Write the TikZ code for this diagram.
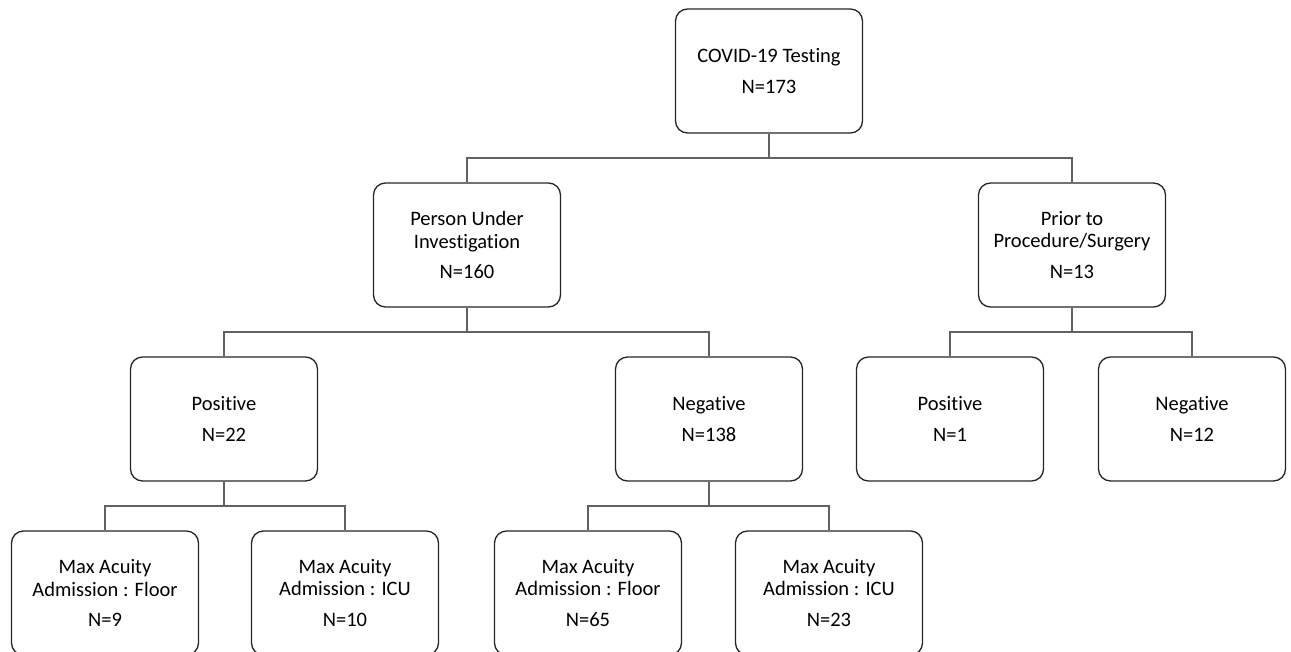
\documentclass[tikz,border=0pt]{standalone}
\usepackage{fontspec}
\setmainfont{Carlito}[Ligatures=NoCommon]
\usepackage{tikz}

\tikzset{
    box/.style={draw=black!85, line width=1.3pt, rounded corners=12pt,
        minimum width=187pt, minimum height=124pt, align=center,
        font=\fontsize{20.5}{22.5}\selectfont, inner sep=0pt},
    link/.style={draw=black!62, line width=1.6pt}
}

\begin{document}
\begin{tikzpicture}[x=1pt,y=-1pt]

    \path[use as bounding box, clip] (0,0) rectangle (1291,651);

    % level 0
    \node[box] (test) at (769,71) {COVID-19 Testing\\[8pt]N=173};

    % level 1
    \node[box] (pui) at (467,245) {Person Under\\Investigation\\[8pt]N=160};
    \node[box] (prior) at (1072,245) {Prior to\\Procedure/Surgery\\[8pt]N=13};

    % level 2
    \node[box] (puipos) at (224,419) {Positive\\[8pt]N=22};
    \node[box] (puineg) at (709,419) {Negative\\[8pt]N=138};
    \node[box] (priorpos) at (950,419) {Positive\\[8pt]N=1};
    \node[box] (priorneg) at (1192,419) {Negative\\[8pt]N=12};

    % level 3
    \node[box] (posfloor) at (105,593) {Max Acuity\\Admission : Floor\\[8pt]N=9};
    \node[box] (posicu) at (345,593) {Max Acuity\\Admission : ICU\\[8pt]N=10};
    \node[box] (negfloor) at (588,593) {Max Acuity\\Admission : Floor\\[8pt]N=65};
    \node[box] (negicu) at (829,593) {Max Acuity\\Admission : ICU\\[8pt]N=23};

    % junctions
    \coordinate (jtest) at (769,158);
    \coordinate (jpui) at (467,332);
    \coordinate (jprior) at (1072,332);
    \coordinate (jpos) at (224,506);
    \coordinate (jneg) at (709,506);

    \draw[link] (test.south) -- (jtest);
    \draw[link] (pui.north) |- (jtest) -| (prior.north);

    \draw[link] (pui.south) -- (jpui);
    \draw[link] (puipos.north) |- (jpui) -| (puineg.north);

    \draw[link] (prior.south) -- (jprior);
    \draw[link] (priorpos.north) |- (jprior) -| (priorneg.north);

    \draw[link] (puipos.south) -- (jpos);
    \draw[link] (posfloor.north) |- (jpos) -| (posicu.north);

    \draw[link] (puineg.south) -- (jneg);
    \draw[link] (negfloor.north) |- (jneg) -| (negicu.north);
\end{tikzpicture}
\end{document}
